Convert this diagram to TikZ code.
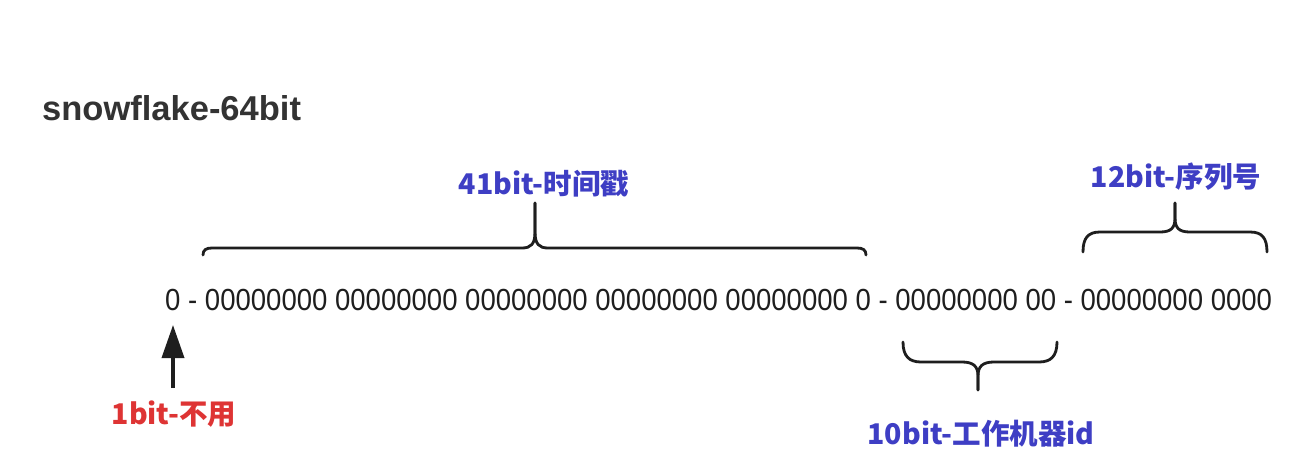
\documentclass[tikz,border=0pt]{standalone}
\usepackage{fontspec}
\setmainfont{Liberation Sans}
\newfontfamily\cjk{Noto Sans CJK SC}
\usetikzlibrary{arrows.meta}
\definecolor{lblue}{RGB}{62,62,196}
\definecolor{lred}{RGB}{222,52,52}
\definecolor{ttl}{RGB}{51,51,51}
\definecolor{ink}{RGB}{30,30,30}
\begin{document}
\begin{tikzpicture}[x=1pt,y=-1pt,
  bracestyle/.style={draw=ink,line width=2.8pt,line cap=round,line join=round},
  lbl/.style={inner sep=0pt,font=\cjk\bfseries\fontsize{28.5}{28.5}\selectfont},
  arrowstyle/.style={draw=ink,fill=ink,line width=3.6pt,-{Triangle[length=33pt,width=22pt]}}]
\useasboundingbox[fill=white] (0,0) rectangle (1314,464);
% title
\node[anchor=base west,inner sep=0pt,text=ttl,font=\bfseries\fontsize{34.5}{34.5}\selectfont] (title) at (42,120) {snowflake-64bit};
% binary string
\node[anchor=west,inner sep=0pt,text=ink] (bits) at (165,300)
  {\resizebox{1107pt}{\height}{\fontsize{30.5}{30.5}\selectfont 0 - 00000000 00000000 00000000 00000000 00000000 0 - 00000000 00 - 00000000 0000}};
% 41bit brace
\path[bracestyle] (203,255) .. controls (203,250) and (206,248) .. (212,248) -- (522,248) .. controls (531,248) and (535,244) .. (535,232) -- (535,203);
\path[bracestyle] (866,255) .. controls (866,250) and (863,248) .. (857,248) -- (548,248) .. controls (539,248) and (535,244) .. (535,232) -- (535,203);
\node[lbl,text=lblue] (l41) at (544,184) {41bit-时间戳};
% 12bit brace
\path[bracestyle] (1083,252) .. controls (1083,238) and (1088,232) .. (1100,232) -- (1160,232) .. controls (1171,232) and (1175,228) .. (1175,218) -- (1175,203);
\path[bracestyle] (1267,252) .. controls (1267,238) and (1262,232) .. (1250,232) -- (1190,232) .. controls (1179,232) and (1175,228) .. (1175,218) -- (1175,203);
\node[lbl,text=lblue] (l12) at (1176,177) {12bit-序列号};
% 10bit brace
\path[bracestyle] (903,342) .. controls (903,356) and (909,362) .. (921,362) -- (962,362) .. controls (973,362) and (978,366) .. (978,376) -- (978,390);
\path[bracestyle] (1057,342) .. controls (1057,356) and (1051,362) .. (1039,362) -- (994,362) .. controls (983,362) and (978,366) .. (978,376) -- (978,390);
\node[lbl,text=lblue] (l10) at (981,434) {10bit-工作机器id};
% 1bit arrow
\coordinate (abot) at (173,388);
\coordinate (atip) at (173,325);
\draw[arrowstyle] (abot) -- (atip);
\node[lbl,text=lred] (l1) at (174,414) {1bit-不用};
\end{tikzpicture}
\end{document}
